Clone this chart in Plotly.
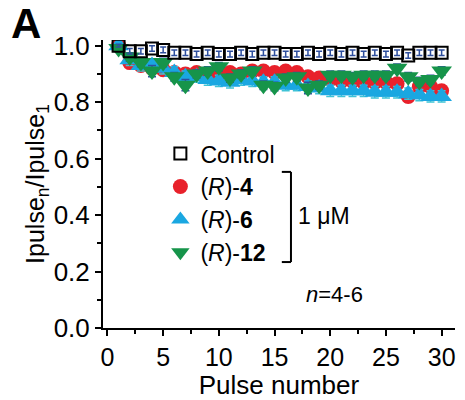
import plotly.graph_objects as go

pulses = list(range(1, 31))

control = [1.0, 0.98, 0.98, 0.99, 0.985, 0.975, 0.975, 0.97, 0.975, 0.97,
           0.97, 0.975, 0.97, 0.975, 0.975, 0.97, 0.97, 0.975, 0.97, 0.975,
           0.97, 0.975, 0.97, 0.975, 0.97, 0.975, 0.965, 0.975, 0.975, 0.975]
control_err = [0.005, 0.01, 0.01, 0.01, 0.01, 0.01, 0.01, 0.01, 0.01, 0.01,
               0.01, 0.01, 0.01, 0.01, 0.01, 0.01, 0.01, 0.01, 0.01, 0.01,
               0.01, 0.01, 0.01, 0.01, 0.01, 0.01, 0.01, 0.01, 0.01, 0.01]

r4 = [1.0, 0.94, 0.93, 0.92, 0.915, 0.905, 0.9, 0.905, 0.9, 0.9,
      0.905, 0.9, 0.91, 0.91, 0.905, 0.91, 0.905, 0.89, 0.885, 0.88,
      0.875, 0.875, 0.87, 0.87, 0.87, 0.865, 0.82, 0.855, 0.855, 0.84]
r4_err = [0.005, 0.015, 0.015, 0.015, 0.015, 0.015, 0.015, 0.015, 0.015, 0.015,
          0.015, 0.015, 0.015, 0.015, 0.015, 0.015, 0.015, 0.015, 0.015, 0.015,
          0.015, 0.015, 0.015, 0.015, 0.015, 0.015, 0.02, 0.015, 0.015, 0.015]

r6 = [1.0, 0.95, 0.93, 0.93, 0.92, 0.905, 0.89, 0.89, 0.88, 0.875,
      0.87, 0.88, 0.875, 0.87, 0.87, 0.86, 0.86, 0.855, 0.85, 0.84,
      0.84, 0.84, 0.84, 0.835, 0.835, 0.835, 0.83, 0.825, 0.82, 0.82]
r6_err = [0.005, 0.02, 0.02, 0.02, 0.02, 0.02, 0.02, 0.02, 0.02, 0.02,
          0.02, 0.02, 0.02, 0.02, 0.02, 0.02, 0.02, 0.02, 0.02, 0.02,
          0.02, 0.02, 0.02, 0.02, 0.02, 0.02, 0.02, 0.02, 0.02, 0.02]

r12 = [0.99, 0.96, 0.94, 0.91, 0.94, 0.89, 0.86, 0.90, 0.91, 0.925,
       0.885, 0.90, 0.91, 0.86, 0.855, 0.885, 0.89, 0.85, 0.86, 0.895,
       0.895, 0.89, 0.895, 0.895, 0.895, 0.92, 0.89, 0.873, 0.88, 0.91]
r12_err = [0.005, 0.015, 0.015, 0.02, 0.015, 0.015, 0.02, 0.015, 0.015, 0.015,
           0.015, 0.015, 0.015, 0.015, 0.015, 0.015, 0.015, 0.02, 0.015, 0.015,
           0.015, 0.015, 0.015, 0.015, 0.015, 0.015, 0.015, 0.015, 0.015, 0.015]

x_ticks = [0, 5, 10, 15, 20, 25, 30]
y_ticks = [0.0, 0.2, 0.4, 0.6, 0.8, 1.0]
y_tick_text = ["0.0", "0.2", "0.4", "0.6", "0.8", "1.0"]

FONT = "Liberation Sans, Arial, sans-serif"

fig = go.Figure()

fig.add_trace(go.Scatter(
    x=pulses, y=r4, mode="markers", name="(<i>R</i>)-<b>4</b>", legendrank=2,
    marker=dict(symbol="circle", size=15, color="#e8212b"),
    error_y=dict(type="data", array=r4_err, color="#e8212b", thickness=1.5, width=4),
))
fig.add_trace(go.Scatter(
    x=pulses, y=r6, mode="markers", name="(<i>R</i>)-<b>6</b>", legendrank=3,
    marker=dict(symbol="triangle-up", size=18, color="#1aa7e1"),
    error_y=dict(type="data", array=r6_err, color="#3fc3d6", thickness=1.5, width=4),
))
fig.add_trace(go.Scatter(
    x=pulses, y=r12, mode="markers", name="(<i>R</i>)-<b>12</b>", legendrank=4,
    marker=dict(symbol="triangle-down", size=18, color="#16944a"),
    error_y=dict(type="data", array=r12_err, color="#2e4f9e", thickness=1.5, width=4),
))
fig.add_trace(go.Scatter(
    x=pulses, y=control, mode="markers", name="Control", legendrank=1,
    marker=dict(symbol="square-open", size=12, color="black", line=dict(width=2, color="black")),
    error_y=dict(type="data", array=control_err, color="#2e4f9e", thickness=1.5, width=3),
))

fig.update_layout(
    width=465, height=400,
    margin=dict(l=103, r=10, t=40, b=72),
    paper_bgcolor="white", plot_bgcolor="white",
    font=dict(family=FONT, size=25, color="black"),
    showlegend=True,
    legend=dict(x=0.163, y=0.68, xanchor="left", yanchor="top",
                bgcolor="rgba(0,0,0,0)", font=dict(size=23),
                itemsizing="trace", tracegroupgap=0, itemwidth=30),
    xaxis=dict(range=[-0.4, 31.2], tickvals=x_ticks, ticks="outside", ticklen=6,
               tickwidth=2, tickcolor="black", showline=True, linecolor="black",
               linewidth=2, showgrid=False, zeroline=False,
               tickfont=dict(size=25),
               minor=dict(dtick=2.5, tick0=0, ticks="outside", ticklen=4, tickwidth=2, tickcolor="black"),
               title=dict(text="Pulse number", font=dict(size=26), standoff=0)),
    yaxis=dict(range=[0, 1.02], tickvals=y_ticks, ticktext=y_tick_text, ticks="outside",
               ticklen=6, tickwidth=2, tickcolor="black", showline=True, linecolor="black",
               linewidth=2, showgrid=False, zeroline=False,
               tickfont=dict(size=26),
               minor=dict(dtick=0.1, tick0=0, ticks="outside", ticklen=4, tickwidth=2, tickcolor="black"),
               title=dict(text="Ipulse<sub>n</sub>/Ipulse<sub>1</sub>", font=dict(size=25), standoff=2)),
    shapes=[
        dict(type="line", xref="paper", yref="paper", x0=0.534, x1=0.534, y0=0.542, y1=0.229,
             line=dict(color="black", width=2)),
        dict(type="line", xref="paper", yref="paper", x0=0.508, x1=0.534, y0=0.542, y1=0.542,
             line=dict(color="black", width=2)),
        dict(type="line", xref="paper", yref="paper", x0=0.508, x1=0.534, y0=0.229, y1=0.229,
             line=dict(color="black", width=2)),
    ],
    annotations=[
        dict(text="1 μM", xref="paper", yref="paper", x=0.548, y=0.39, xanchor="left",
             yanchor="middle", showarrow=False, font=dict(size=23)),
        dict(text="<i>n</i>=4-6", xref="paper", yref="paper", x=0.57, y=0.115, xanchor="left",
             yanchor="middle", showarrow=False, font=dict(size=22)),
        dict(text="<b>A</b>", xref="paper", yref="paper", x=-0.268, y=1.145, xanchor="left",
             yanchor="top", showarrow=False, font=dict(size=42)),
    ],
)

fig.write_html("out.html")
